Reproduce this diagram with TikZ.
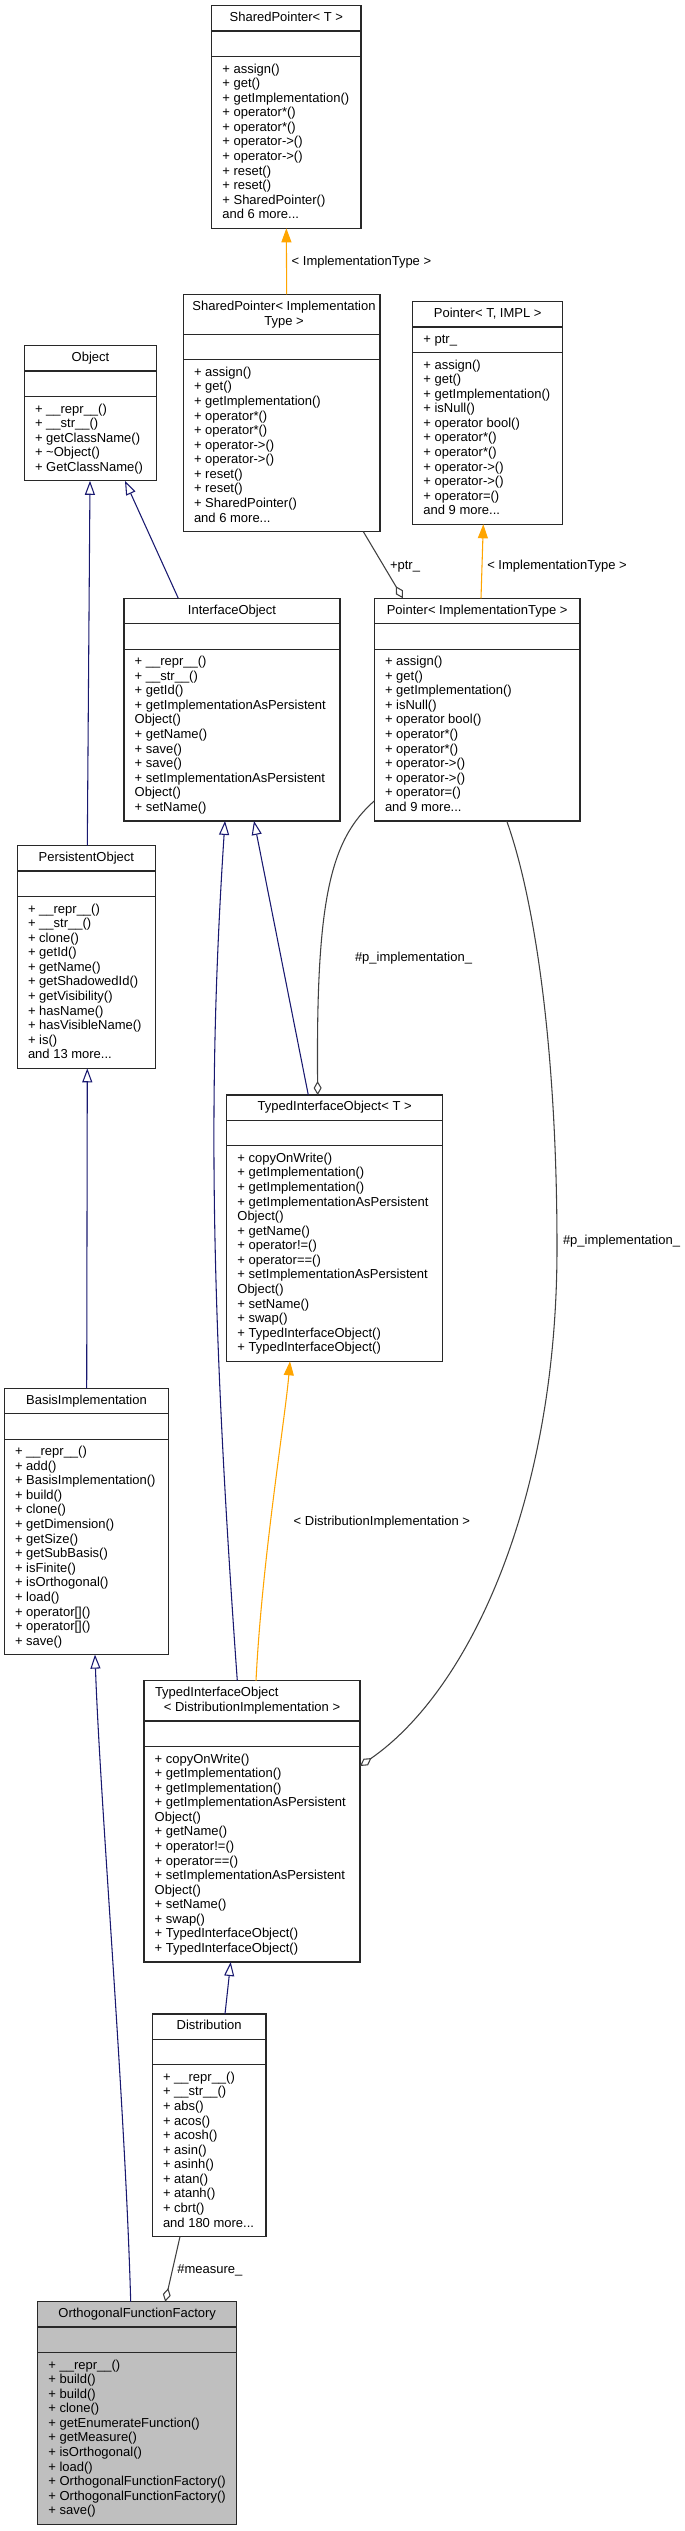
\documentclass[tikz,border=0pt]{standalone}
\usepackage{fontspec}
\setmainfont{Liberation Sans}
\usetikzlibrary{arrows.meta,calc}
\newdimen\px \px=0.75pt
\definecolor{mblue}{RGB}{25,25,112}
\definecolor{dorange}{RGB}{255,165,0}
\definecolor{egray}{RGB}{64,64,64}
\definecolor{offgray}{RGB}{191,191,191}
\definecolor{bordercol}{RGB}{40,40,40}
\newcommand\mdots{.\kern0pt.\kern0pt.}
\tikzset{
 mtext/.style={inner sep=0pt, outer sep=0pt, font=\fontsize{9.75}{11}\selectfont, text=black},
 classbox/.style={draw=bordercol, line width=0.9pt, inner sep=0pt, outer sep=0pt},
 sepline/.style={draw=bordercol, line width=0.9pt},
 inh/.style={draw=mblue, line width=0.8pt, -{Triangle[length=10.5pt,width=7.5pt,fill=white]}},
 tmpl/.style={draw=dorange, line width=0.8pt, -{Triangle[length=10.5pt,width=7.5pt,fill=dorange]}},
 agg/.style={draw=egray, line width=0.8pt, -{Diamond[length=10.5pt,width=6pt,fill=white]}},
 elabel/.style={mtext, anchor=base west},
}
% name, x1, x2, top, sep1, sep2, bottom, fill
\newcommand\UMLBox[8]{%
  \pgfmathsetmacro\bw{#3-#2}%
  \pgfmathsetmacro\bh{#7-#4}%
  \pgfmathsetmacro\bcx{(#2+#3)/2}%
  \pgfmathsetmacro\bcy{(#4+#7)/2}%
  \node[classbox, fill=#8, minimum width=\bw\px, minimum height=\bh\px] (#1) at (\bcx,\bcy) {};
  \draw[sepline] (#2,#5) -- (#3,#5);
  \draw[sepline] (#2,#6) -- (#3,#6);
}
% name, cx, center y, text
\newcommand\BoxTitle[4]{\node[mtext, anchor=base] (#1) at (#2,{#3+4}) {#4};}
% name, x, first center y, list
\newcommand\BoxLines[4]{%
  \foreach \mline [count=\i from 0] in {#4} {\node[mtext, anchor=base west] (#1-\i) at (#2,{#3+\i*14.58+4}) {\mline};}%
}
\begin{document}
\begin{tikzpicture}[x=0.75pt, y=-0.75pt]
\useasboundingbox (0,0) rectangle (685,2531);
\fill[white] (0,0) rectangle (685,2531);

% SharedPointer< T >
\UMLBox{spT}{211.7}{361}{5.7}{31}{56.5}{228.3}{white}
\BoxTitle{spT-t}{286.35}{17.5}{SharedPointer< T >}
\BoxLines{spT-m}{222.4}{69}{+ assign(),+ get(),+ getImplementation(),+ operator*(),+ operator*(),+ operator->(),+ operator->(),+ reset(),+ reset(),+ SharedPointer(),and 6 more\mdots}

% SharedPointer< ImplementationType >
\UMLBox{spI}{183.3}{380}{294.3}{334.3}{359.8}{531.6}{white}
\BoxTitle{spI-t1}{284}{306.5}{SharedPointer< Implementation}
\BoxTitle{spI-t2}{284}{321.1}{Type >}
\BoxLines{spI-m}{194}{372.3}{+ assign(),+ get(),+ getImplementation(),+ operator*(),+ operator*(),+ operator->(),+ operator->(),+ reset(),+ reset(),+ SharedPointer(),and 6 more\mdots}

% Pointer< T, IMPL >
\UMLBox{pT}{412.7}{562.7}{301.7}{327}{352.5}{524.3}{white}
\BoxTitle{pT-t}{487.7}{313.5}{Pointer< T, IMPL >}
\node[mtext, anchor=base west] (pT-a) at (423.4,343.75) {+ ptr\_};
\BoxLines{pT-m}{423.4}{365}{+ assign(),+ get(),+ getImplementation(),+ isNull(),+ operator bool(),+ operator*(),+ operator*(),+ operator->(),+ operator->(),+ operator=(),and 9 more\mdots}

% Object
\UMLBox{Object}{24.3}{156.7}{345.7}{371}{396.5}{480.8}{white}
\BoxTitle{Object-t}{90.5}{357.5}{Object}
\BoxLines{Object-m}{35}{409}{+ \_\_repr\_\_(),+ \_\_str\_\_(),+ getClassName(),+ \textasciitilde Object(),+ GetClassName()}

% InterfaceObject
\UMLBox{IO}{124}{340}{598.3}{623.6}{649.1}{820.9}{white}
\BoxTitle{IO-t}{232}{610.1}{InterfaceObject}
\BoxLines{IO-m}{134.7}{661.6}{+ \_\_repr\_\_(),+ \_\_str\_\_(),+ getId(),+ getImplementationAsPersistent,Object(),+ getName(),+ save(),+ save(),+ setImplementationAsPersistent,Object(),+ setName()}

% Pointer< ImplementationType >
\UMLBox{pI}{374.3}{580}{598.3}{623.6}{649.1}{820.9}{white}
\BoxTitle{pI-t}{477.15}{610.1}{Pointer< ImplementationType >}
\BoxLines{pI-m}{385}{661.6}{+ assign(),+ get(),+ getImplementation(),+ isNull(),+ operator bool(),+ operator*(),+ operator*(),+ operator->(),+ operator->(),+ operator=(),and 9 more\mdots}

% PersistentObject
\UMLBox{PO}{17.3}{155.3}{845.7}{871}{896.5}{1068.3}{white}
\BoxTitle{PO-t}{86.3}{857.5}{PersistentObject}
\BoxLines{PO-m}{28}{909}{+ \_\_repr\_\_(),+ \_\_str\_\_(),+ clone(),+ getId(),+ getName(),+ getShadowedId(),+ getVisibility(),+ hasName(),+ hasVisibleName(),+ is(),and 13 more\mdots}

% TypedInterfaceObject< T >
\UMLBox{tioT}{226.7}{442.7}{1095}{1120.3}{1145.8}{1361.3}{white}
\BoxTitle{tioT-t}{334.7}{1106.8}{TypedInterfaceObject< T >}
\BoxLines{tioT-m}{237.4}{1158.3}{+ copyOnWrite(),+ getImplementation(),+ getImplementation(),+ getImplementationAsPersistent,Object(),+ getName(),+ operator!=(),+ operator==(),+ setImplementationAsPersistent,Object(),+ setName(),+ swap(),+ TypedInterfaceObject(),+ TypedInterfaceObject()}

% BasisImplementation
\UMLBox{BI}{4.3}{168.7}{1388.3}{1413.6}{1439.1}{1654.6}{white}
\BoxTitle{BI-t}{86.5}{1400.1}{BasisImplementation}
\BoxLines{BI-m}{15}{1451.6}{+ \_\_repr\_\_(),+ add(),+ BasisImplementation(),+ build(),+ clone(),+ getDimension(),+ getSize(),+ getSubBasis(),+ isFinite(),+ isOrthogonal(),+ load(),+ operator[](),+ operator[](),+ save()}

% TypedInterfaceObject< DistributionImplementation >
\UMLBox{tioD}{144}{360}{1680.7}{1721}{1746.5}{1962}{white}
\node[mtext, anchor=base west] (tioD-t1) at (155,1696.9) {TypedInterfaceObject};
\BoxTitle{tioD-t2}{252}{1707.5}{< DistributionImplementation >}
\BoxLines{tioD-m}{154.7}{1759}{+ copyOnWrite(),+ getImplementation(),+ getImplementation(),+ getImplementationAsPersistent,Object(),+ getName(),+ operator!=(),+ operator==(),+ setImplementationAsPersistent,Object(),+ setName(),+ swap(),+ TypedInterfaceObject(),+ TypedInterfaceObject()}

% Distribution
\UMLBox{D}{152.3}{266}{2014}{2039.3}{2064.8}{2236.6}{white}
\BoxTitle{D-t}{209.15}{2025.8}{Distribution}
\BoxLines{D-m}{163}{2077.3}{+ \_\_repr\_\_(),+ \_\_str\_\_(),+ abs(),+ acos(),+ acosh(),+ asin(),+ asinh(),+ atan(),+ atanh(),+ cbrt(),and 180 more\mdots}

% OrthogonalFunctionFactory
\UMLBox{OFF}{37.7}{236.7}{2301.7}{2327}{2352.5}{2524.3}{offgray}
\BoxTitle{OFF-t}{137.2}{2313.5}{OrthogonalFunctionFactory}
\BoxLines{OFF-m}{48.4}{2365}{+ \_\_repr\_\_(),+ build(),+ build(),+ clone(),+ getEnumerateFunction(),+ getMeasure(),+ isOrthogonal(),+ load(),+ OrthogonalFunctionFactory(),+ OrthogonalFunctionFactory(),+ save()}

% ---- connectors ----
\draw[tmpl] ($(spI.north)+(5,0)$) -- (spT.south);
\node[elabel] (l1) at (291.7,265) {< ImplementationType >};

\draw[inh] ($(PO.north)+(1,0)$) -- ($(Object.south)+(-0.5,0)$);
\draw[inh] ($(IO.north)+(-53.7,0)$) -- ($(Object.south)+(34.5,0)$);
\draw[inh] ($(tioT.north)+(-26.4,0)$) -- ($(IO.south)+(22,0)$);
\draw[inh] ($(tioD.north)+(-14.7,0)$) .. controls (210,1300) and (208,1080) .. ($(IO.south)+(-7,0)$);

\draw[tmpl] ($(pI.north)+(3.85,0)$) -- ($(pT.south)+(-4.4,0)$);
\node[elabel] (l2) at (487.3,569) {< ImplementationType >};

\draw[agg] ($(spI.south)+(81.65,0)$) -- ($(pI.north)+(-74.15,0)$);
\node[elabel] (l3) at (390,569) {+ptr\_};

\draw[agg] ($(pI.south west)+(0,-20)$) .. controls (330,840) and (316,900) .. ($(tioT.north)+(-17,0)$);
\node[elabel] (l4) at (355,961.3) {\#p\_implementation\_};

\draw[agg] ($(pI.south)+(29.55,0)$) .. controls (535,900) and (557,1050) .. (557,1248) .. controls (557,1500) and (470,1690) .. ($(tioD.east)+(0,-55.35)$);
\node[elabel] (l5) at (563,1244) {\#p\_implementation\_};

\draw[tmpl] ($(tioD.north)+(4,0)$) .. controls (262,1560) and (285,1420) .. ($(tioT.south)+(-44.7,0)$);
\node[mtext, anchor=base east] (l6) at (470,1525) {< DistributionImplementation >};

\draw[inh] ($(D.north)+(15.85,0)$) -- ($(tioD.south)+(-21.3,0)$);
\draw[inh] ($(OFF.north)+(-6.5,0)$) .. controls (125,2100) and (100,1800) .. ($(BI.south)+(8.5,0)$);
\draw[inh] ($(BI.north)+(0.2,0)$) -- ($(PO.south)+(1,0)$);

\draw[agg] ($(D.south)+(-29.15,0)$) -- ($(OFF.north)+(28,0)$);
\node[elabel] (l7) at (177.3,2273) {\#measure\_};
\end{tikzpicture}
\end{document}
